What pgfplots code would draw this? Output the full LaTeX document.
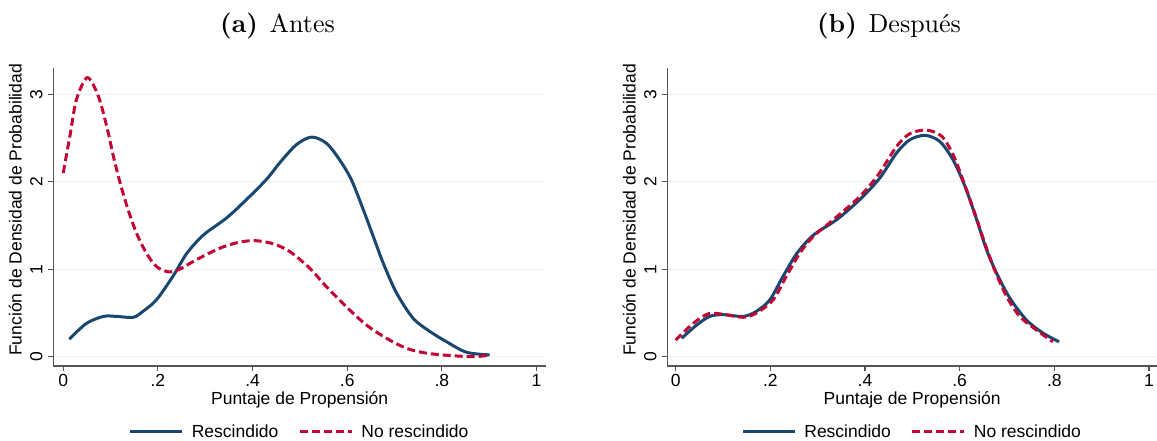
\documentclass[border=0pt]{standalone}
\usepackage{fontspec}
\usepackage{pgfplots}
\pgfplotsset{compat=1.18}
\newfontfamily\arial{Liberation Sans}
\newfontfamily\titlefont{lmroman10-regular}[Extension=.otf, BoldFont=lmroman10-bold]
\definecolor{sblue}{HTML}{1A476F}
\definecolor{sred}{HTML}{C10534}
\definecolor{sgrid}{HTML}{EAF2F3}
\definecolor{saxis}{HTML}{555555}
\pgfplotsset{
  stata/.style={
    scale only axis,
    height=298pt,
    ymin=-0.107, ymax=3.30,
    separate axis lines,
    axis x line*=bottom, axis y line*=left,
    axis line style={-, draw=saxis, line width=1.3pt},
    every outer x axis line/.append style={-},
    every outer y axis line/.append style={-},
    tick align=outside,
    major tick length=5pt,
    tick style={draw=saxis, line width=1.2pt},
    xtick={0,0.2,0.4,0.6,0.8,1},
    xticklabels={0,.2,.4,.6,.8,1},
    ytick={0,1,2,3},
    yticklabels={0,1,2,3},
    ymajorgrids,
    grid style={draw=sgrid, line width=1.2pt},
    font=\arial\fontsize{17.5}{21}\selectfont,
    yticklabel style={rotate=90, anchor=base, inner sep=0pt, yshift=6pt},
    xticklabel style={anchor=north, inner sep=0pt, yshift=-3pt},
    xlabel={Puntaje de Propensión},
    xlabel style={at={(axis description cs:0.5,0)}, anchor=base, yshift=-38pt},
    ylabel={Función de Densidad de Probabilidad},
    ylabel style={at={(axis description cs:0,0.524)}, anchor=base, yshift=31.8pt},
    legend columns=2,
    legend style={draw=none, fill=none, at={(0.5,-0.2205)}, anchor=center,
      /tikz/every odd column/.append style={column sep=6pt},
      /tikz/every even column/.append style={column sep=18pt}},
    legend image code/.code={\draw[#1] (0pt,0pt) -- (52pt,0pt);},
    clip=false,
  },
  blueline/.style={sblue, line width=3pt, smooth},
  redline/.style={sred, line width=3pt, smooth, dash pattern=on 8pt off 4pt},
}
\begin{document}
\begin{tikzpicture}
% Left panel
\begin{axis}[stata, at={(53.3pt,74pt)}, anchor=south west, width=492.7pt,
  xmin=-0.021, xmax=1.02]
\addplot[blueline] coordinates {
(0.0127,0.20) (0.049,0.38) (0.085,0.46) (0.113,0.46) (0.148,0.45) (0.169,0.52)
(0.197,0.65) (0.232,0.92) (0.261,1.18) (0.296,1.39) (0.345,1.585) (0.387,1.795)
(0.43,2.03) (0.458,2.22) (0.493,2.425) (0.525,2.51) (0.556,2.44) (0.584,2.25)
(0.609,2.02) (0.634,1.68) (0.655,1.375) (0.676,1.07) (0.704,0.73) (0.739,0.44)
(0.774,0.29) (0.810,0.17) (0.852,0.05) (0.901,0.02)
};
\addlegendentry{Rescindido}
\addplot[redline] coordinates {
(0.0,2.10) (0.014,2.52) (0.028,2.94) (0.051,3.19) (0.074,2.98) (0.092,2.63)
(0.106,2.29) (0.12,1.99) (0.137,1.68) (0.155,1.41) (0.176,1.18) (0.197,1.03)
(0.222,0.97) (0.246,1.00) (0.282,1.11) (0.331,1.24) (0.373,1.31) (0.408,1.325)
(0.444,1.29) (0.479,1.20) (0.521,1.01) (0.556,0.80) (0.598,0.57) (0.641,0.36)
(0.683,0.21) (0.725,0.096) (0.767,0.04) (0.824,0.01) (0.873,0.0) (0.901,0.02)
};
\addlegendentry{No rescindido}
\end{axis}
% Right panel
\begin{axis}[stata, at={(667.3pt,74pt)}, anchor=south west, width=489.7pt,
  xmin=-0.0177, xmax=1.017]
\addplot[blueline] coordinates {
(0.0127,0.21) (0.044,0.36) (0.072,0.46) (0.10,0.48) (0.143,0.46) (0.171,0.52)
(0.199,0.65) (0.227,0.92) (0.256,1.18) (0.291,1.39) (0.34,1.565) (0.389,1.795)
(0.431,2.04) (0.467,2.33) (0.495,2.48) (0.527,2.53) (0.558,2.46) (0.586,2.25)
(0.611,1.95) (0.636,1.565) (0.657,1.22) (0.678,0.955) (0.706,0.67) (0.741,0.42)
(0.776,0.27) (0.81,0.17)
};
\addlegendentry{Rescindido}
\addplot[redline] coordinates {
(0.0,0.19) (0.037,0.38) (0.069,0.49) (0.10,0.485) (0.143,0.45) (0.171,0.50)
(0.206,0.65) (0.234,0.92) (0.262,1.18) (0.291,1.375) (0.333,1.565) (0.389,1.83)
(0.428,2.08) (0.467,2.405) (0.495,2.55) (0.53,2.59) (0.562,2.52) (0.586,2.31)
(0.607,2.02) (0.632,1.64) (0.653,1.30) (0.674,0.99) (0.699,0.69) (0.727,0.46)
(0.762,0.305) (0.797,0.17)
};
\addlegendentry{No rescindido}
\end{axis}
% Titles
\node[anchor=base, inner sep=0pt] at (277.5pt,407pt) {\titlefont\fontsize{26}{30}\selectfont\textbf{(a)}\hspace{0.45em}Antes};
\node[anchor=base, inner sep=0pt] at (889pt,407pt) {\titlefont\fontsize{26}{30}\selectfont\textbf{(b)}\hspace{0.45em}Después};
\pgfresetboundingbox
\path (0pt,0pt) rectangle (1157pt,440pt);
\end{tikzpicture}
\end{document}
